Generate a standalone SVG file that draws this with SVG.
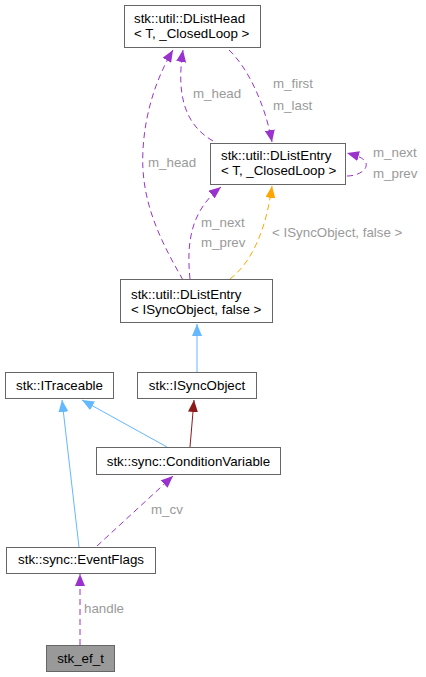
<svg xmlns="http://www.w3.org/2000/svg" width="426" height="677" viewBox="0 0 426 677">
<style>
.n rect{fill:#ffffff;stroke:#666666;stroke-width:1}
.n text{font-family:"Liberation Sans",Arial,sans-serif;font-size:13.33px;fill:#000000}
.c{text-anchor:middle}
.e path{fill:none;stroke-width:1}
.p{stroke:#9a32cd;stroke-dasharray:6,4}
.o{stroke:#ffa500;stroke-dasharray:6,4}
.b{stroke:#63b8ff}
.r{stroke:#8b1a1a}
.l{font-family:"Liberation Sans",Arial,sans-serif;font-size:13.33px;fill:#9a9a9a}
</style>
<defs>
<marker id="ap" markerUnits="userSpaceOnUse" markerWidth="13" markerHeight="10" viewBox="0 0 13 10" refX="12" refY="5" orient="auto"><path d="M0,0 L12,5 L0,10 z" fill="#9a32cd"/></marker>
<marker id="ao" markerUnits="userSpaceOnUse" markerWidth="13" markerHeight="10" viewBox="0 0 13 10" refX="12" refY="5" orient="auto"><path d="M0,0 L12,5 L0,10 z" fill="#ffa500"/></marker>
<marker id="ab" markerUnits="userSpaceOnUse" markerWidth="13" markerHeight="10" viewBox="0 0 13 10" refX="12" refY="5" orient="auto"><path d="M0,0 L12,5 L0,10 z" fill="#63b8ff"/></marker>
<marker id="ar" markerUnits="userSpaceOnUse" markerWidth="13" markerHeight="10" viewBox="0 0 13 10" refX="12" refY="5" orient="auto"><path d="M0,0 L12,5 L0,10 z" fill="#8b1a1a"/></marker>
</defs>
<g id="edges" class="e">
<path class="p" d="M229,50 C248,68 265,104 272,142" marker-end="url(#ap)"/>
<path class="p" d="M213,141 C185,125 176,95 183,50" marker-end="url(#ap)"/>
<path class="p" d="M183,280 C160,240 140,200 143,150 C145,110 158,75 173,50" marker-end="url(#ap)"/>
<path class="p" d="M190,279 C186,240 192,210 221,187" marker-end="url(#ap)"/>
<path class="o" d="M230,279 C252,262 266,230 272,186" marker-end="url(#ao)"/>
<path class="p" d="M347,176 C358,176 368,170 366,163 C364,158 358,156 347,153" marker-end="url(#ap)"/>
<path class="b" d="M197,372 L197,324" marker-end="url(#ab)"/>
<path class="b" d="M167,447 L82,400" marker-end="url(#ab)"/>
<path class="r" d="M190,447 L194,400" marker-end="url(#ar)"/>
<path class="b" d="M79,547 L62,400" marker-end="url(#ab)"/>
<path class="p" d="M97,546 L173,476" marker-end="url(#ap)"/>
<path class="p" d="M80,645 L80,574" marker-end="url(#ap)"/>
<text class="l" x="273" y="88">m_first</text>
<text class="l" x="273" y="110">m_last</text>
<text class="l" x="193" y="98">m_head</text>
<text class="l" x="148" y="167">m_head</text>
<text class="l" x="201" y="227">m_next</text>
<text class="l" x="201" y="247">m_prev</text>
<text class="l" x="272" y="237">&lt; ISyncObject, false &gt;</text>
<text class="l" x="373" y="157">m_next</text>
<text class="l" x="373" y="178">m_prev</text>
<text class="l" x="151" y="514">m_cv</text>
<text class="l" x="84" y="613">handle</text>
</g>
<g id="dlisthead" class="n"><rect x="124.5" y="5.5" width="136" height="42"/><text x="134" y="22.5">stk::util::DListHead</text><text x="134" y="37.5">&lt; T, _ClosedLoop &gt;</text></g>
<g id="dlistentry_t" class="n"><rect x="210.5" y="143.5" width="135" height="41"/><text x="221" y="159.5">stk::util::DListEntry</text><text x="221" y="175">&lt; T, _ClosedLoop &gt;</text></g>
<g id="dlistentry_isync" class="n"><rect x="120.5" y="279.5" width="152" height="43"/><text x="131" y="298.5">stk::util::DListEntry</text><text x="131" y="313.5">&lt; ISyncObject, false &gt;</text></g>
<g id="itraceable" class="n"><rect x="5.5" y="372.5" width="108" height="26"/><text class="c" x="59.5" y="390">stk::ITraceable</text></g>
<g id="isyncobject" class="n"><rect x="137.5" y="372.5" width="119" height="26"/><text class="c" x="197" y="390">stk::ISyncObject</text></g>
<g id="conditionvariable" class="n"><rect x="96.5" y="447.5" width="184" height="27"/><text class="c" x="188.5" y="466">stk::sync::ConditionVariable</text></g>
<g id="eventflags" class="n"><rect x="6.5" y="547.5" width="149" height="26"/><text class="c" x="81" y="564">stk::sync::EventFlags</text></g>
<g id="stk_ef_t" class="n"><rect x="46.5" y="645.5" width="68" height="26" style="fill:#999999"/><text class="c" x="80.5" y="663">stk_ef_t</text></g>
</svg>
